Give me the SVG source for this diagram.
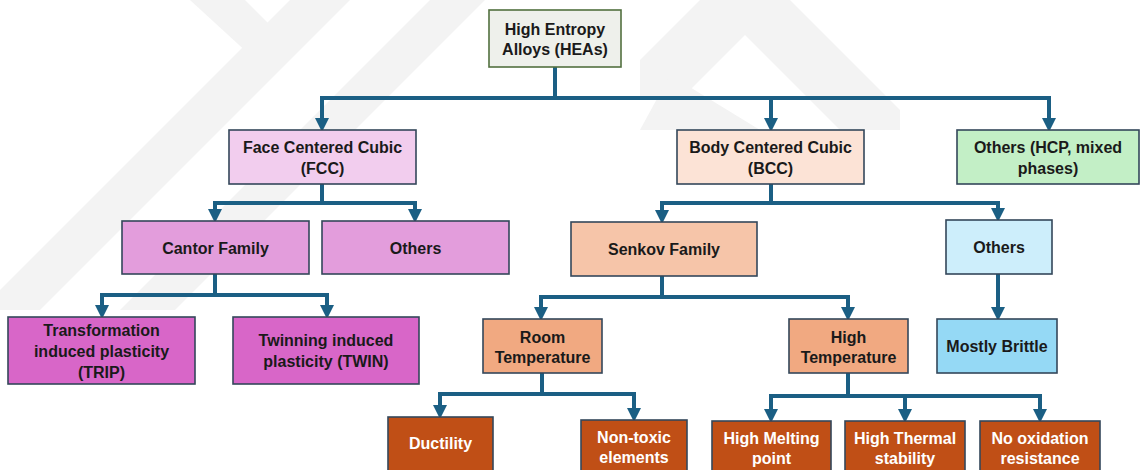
<svg xmlns="http://www.w3.org/2000/svg" width="1140" height="470" viewBox="0 0 1140 470">
<defs>
<marker id="ah" markerUnits="userSpaceOnUse" markerWidth="14" markerHeight="14" viewBox="0 0 12 12" refX="0" refY="6" orient="auto">
<path d="M0,0 L12,6 L0,12 z" fill="#1b5f84"/>
</marker>
<style>
.bx{stroke:#34475a;stroke-width:1.6}
.t{font-family:"Liberation Sans",Arial,sans-serif;font-weight:bold;font-size:16px;fill:#1a1a1a;text-anchor:middle}
.w{fill:#ffffff}
.c{fill:none;stroke:#1b5f84;stroke-width:4;stroke-linejoin:miter}
.wm{fill:#efefef}
</style>
</defs>
<rect width="1140" height="470" fill="#ffffff"/>
<g id="watermark" opacity="0.75">
<polygon class="wm" points="190,0 245,0 275,30 250,55"/>
<polygon class="wm" points="290,0 350,0 40,310 -20,310"/>
<polygon class="wm" points="430,0 485,0 175,310 120,310"/>
<polygon class="wm" points="700,0 790,0 900,110 900,130 840,130 745,35 680,100 640,100 640,60"/>
<polygon class="wm" points="640,130 670,75 760,130"/>
</g>
<g id="connectors">
<path class="c" marker-end="url(#ah)" d="M555,67 V98 H322 V118"/>
<path class="c" marker-end="url(#ah)" d="M555,67 V98 H771 V118"/>
<path class="c" marker-end="url(#ah)" d="M555,67 V98 H1049 V118"/>
<path class="c" marker-end="url(#ah)" d="M322,184 V203 H215 V209"/>
<path class="c" marker-end="url(#ah)" d="M322,184 V203 H415 V209"/>
<path class="c" marker-end="url(#ah)" d="M215,274 V295 H102 V305"/>
<path class="c" marker-end="url(#ah)" d="M215,274 V295 H327 V305"/>
<path class="c" marker-end="url(#ah)" d="M771,184 V203 H662 V210"/>
<path class="c" marker-end="url(#ah)" d="M771,184 V203 H998 V208"/>
<path class="c" marker-end="url(#ah)" d="M662,276 V297 H541 V307"/>
<path class="c" marker-end="url(#ah)" d="M662,276 V297 H848 V307"/>
<path class="c" marker-end="url(#ah)" d="M998,274 V307"/>
<path class="c" marker-end="url(#ah)" d="M542,373 V394 H440 V405"/>
<path class="c" marker-end="url(#ah)" d="M542,373 V394 H634 V408"/>
<path class="c" marker-end="url(#ah)" d="M848,373 V396 H771 V409"/>
<path class="c" marker-end="url(#ah)" d="M848,373 V396 H905 V409"/>
<path class="c" marker-end="url(#ah)" d="M848,373 V396 H1040 V409"/>
</g>
<g id="hea">
<rect class="bx" x="489" y="10" width="132" height="57" fill="#eef0eb" style="stroke:#52703f"/>
<text class="t" x="555" y="34.5">High Entropy</text>
<text class="t" x="555" y="54.5">Alloys (HEAs)</text>
</g>
<g id="fcc">
<rect class="bx" x="229" y="130" width="187" height="54" fill="#f2cdee"/>
<text class="t" x="322.5" y="152.5">Face Centered Cubic</text>
<text class="t" x="322.5" y="173.5">(FCC)</text>
</g>
<g id="bcc">
<rect class="bx" x="677" y="130" width="187" height="54" fill="#fce3d6"/>
<text class="t" x="770.5" y="152.5">Body Centered Cubic</text>
<text class="t" x="770.5" y="173.5">(BCC)</text>
</g>
<g id="hcp">
<rect class="bx" x="957" y="130" width="182" height="54" fill="#c3efc6"/>
<text class="t" x="1048" y="152.5">Others (HCP, mixed</text>
<text class="t" x="1048" y="173.5">phases)</text>
</g>
<g id="cantor">
<rect class="bx" x="122" y="221" width="187" height="53" fill="#e39ddc"/>
<text class="t" x="215.5" y="253.5">Cantor Family</text>
</g>
<g id="others-fcc">
<rect class="bx" x="322" y="221" width="187" height="53" fill="#e39ddc"/>
<text class="t" x="415.5" y="253.5">Others</text>
</g>
<g id="senkov">
<rect class="bx" x="571" y="222" width="186" height="54" fill="#f6c5a9"/>
<text class="t" x="664" y="254.5">Senkov Family</text>
</g>
<g id="others-bcc">
<rect class="bx" x="946" y="220" width="106" height="54" fill="#cdeefb"/>
<text class="t" x="999" y="252.5">Others</text>
</g>
<g id="trip">
<rect class="bx" x="8" y="317" width="187" height="67" fill="#d866c8"/>
<text class="t" x="101.5" y="335.5">Transformation</text>
<text class="t" x="101.5" y="356.5">induced plasticity</text>
<text class="t" x="101.5" y="377.5">(TRIP)</text>
</g>
<g id="twin">
<rect class="bx" x="233" y="317" width="186" height="67" fill="#d866c8"/>
<text class="t" x="326" y="345.5">Twinning induced</text>
<text class="t" x="326" y="366.5">plasticity (TWIN)</text>
</g>
<g id="room">
<rect class="bx" x="483" y="319" width="119" height="54" fill="#f1a981"/>
<text class="t" x="542.5" y="342.5">Room</text>
<text class="t" x="542.5" y="362.5">Temperature</text>
</g>
<g id="hightemp">
<rect class="bx" x="789" y="319" width="119" height="54" fill="#f1a981"/>
<text class="t" x="848.5" y="342.5">High</text>
<text class="t" x="848.5" y="362.5">Temperature</text>
</g>
<g id="brittle">
<rect class="bx" x="937" y="319" width="120" height="54" fill="#95d9f5"/>
<text class="t" x="997" y="351.5">Mostly Brittle</text>
</g>
<g id="ductility">
<rect class="bx" x="388" y="417" width="105" height="60" fill="#c04f16"/>
<text class="t w" x="440.5" y="448.5">Ductility</text>
</g>
<g id="nontoxic">
<rect class="bx" x="581" y="420" width="106" height="60" fill="#c04f16"/>
<text class="t w" x="634" y="442.5">Non-toxic</text>
<text class="t w" x="634" y="462.5">elements</text>
</g>
<g id="melting">
<rect class="bx" x="712" y="421" width="119" height="60" fill="#c04f16"/>
<text class="t w" x="771.5" y="443.5">High Melting</text>
<text class="t w" x="771.5" y="463.5">point</text>
</g>
<g id="thermal">
<rect class="bx" x="845" y="421" width="120" height="60" fill="#c04f16"/>
<text class="t w" x="905" y="443.5">High Thermal</text>
<text class="t w" x="905" y="463.5">stability</text>
</g>
<g id="oxidation">
<rect class="bx" x="980" y="421" width="120" height="60" fill="#c04f16"/>
<text class="t w" x="1040" y="443.5">No oxidation</text>
<text class="t w" x="1040" y="463.5">resistance</text>
</g>
</svg>
